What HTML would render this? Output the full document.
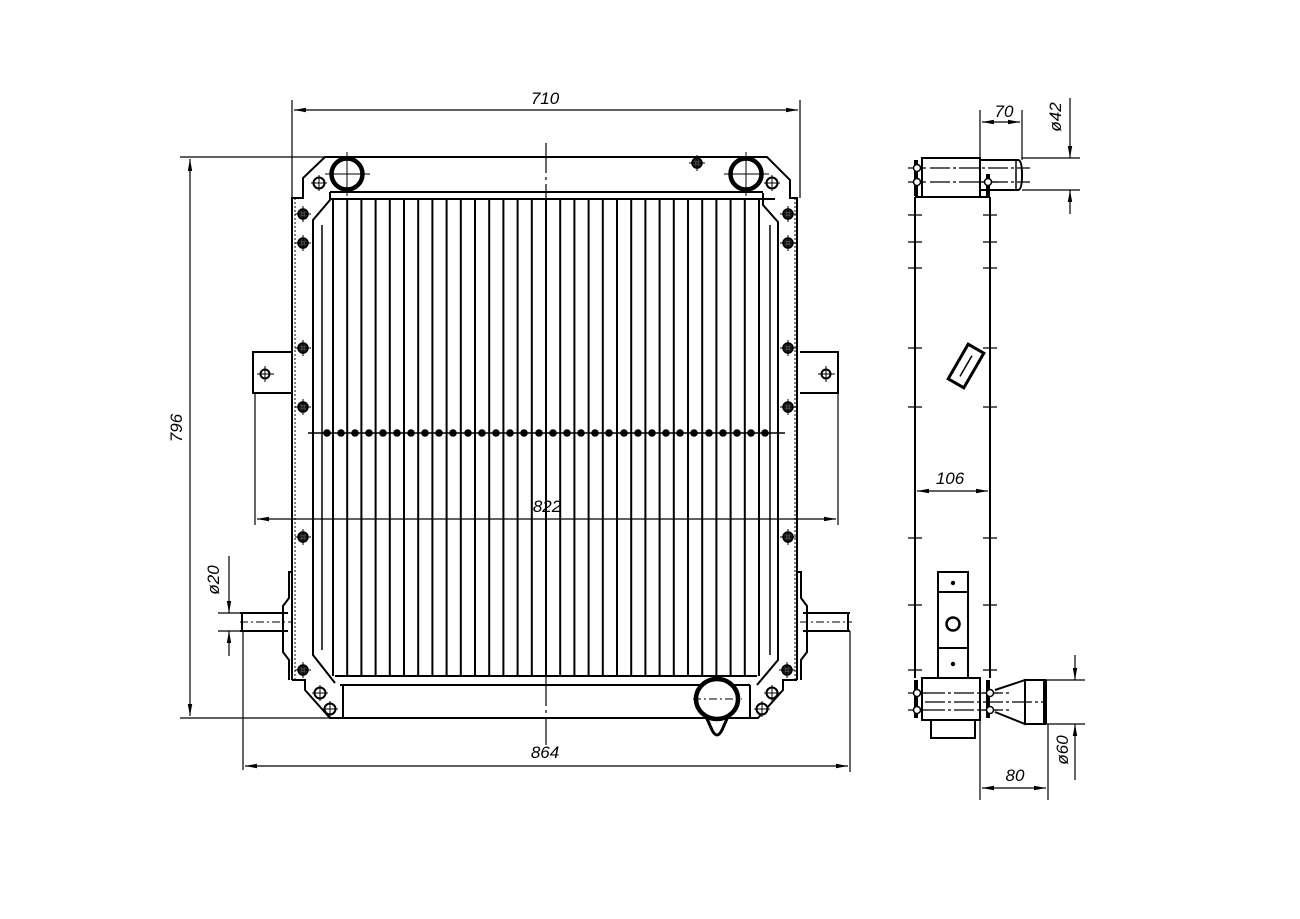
<!DOCTYPE html>
<html><head><meta charset="utf-8"><style>html,body{margin:0;background:#fff}svg{display:block}</style></head><body>
<svg width="1300" height="919" viewBox="0 0 1300 919" xmlns="http://www.w3.org/2000/svg" font-family="Liberation Sans, sans-serif">
<defs>
<marker id="a" markerWidth="12" markerHeight="6" refX="12" refY="3" orient="auto-start-reverse" markerUnits="userSpaceOnUse"><path d="M0,0.8 L12,3 L0,5.2z" fill="#000"/></marker>
<g id="bolt"><circle r="5.5" fill="#fff" stroke="#000" stroke-width="2"/><path d="M-8,0H8M0,-8V8" stroke="#000" stroke-width="1"/></g>
<g id="boltd"><circle r="5" fill="#222" stroke="#000" stroke-width="1.5"/><circle r="2" fill="#888"/><path d="M-8,0H8M0,-8V8" stroke="#000" stroke-width="1"/></g>
</defs>
<g fill="none" stroke="#000" stroke-width="2">
<path d="M292,680 V198 H303 V178 L325,157 H767 L790,180 V198 H797 V680"/>
<path d="M295,680 V198" stroke-width="1" stroke-dasharray="2 2"/>
<path d="M795,680 V198" stroke-width="1" stroke-dasharray="2 2"/>
<path d="M330,192 H763"/><path d="M330,199 H775"/>
<path d="M330,192 L330,199"/>
<path d="M330,192 V200 L313,220 V655 L335,683"/>
<path d="M763,193 V205 L778,222 V660 L757,685"/>
<path d="M322,225 V650" stroke-width="1.5"/><path d="M770,225 V655" stroke-width="1.5"/>
<path d="M335,676 H757"/><path d="M340,685 H750"/>
<path d="M343,685 V718 H750 V685"/>
<path d="M292,680 H305 V690 L330,718 H345"/>
<path d="M797,680 H783 V690 L758,718 H745"/>
</g>
<g stroke="#000" stroke-width="2">
<path d="M333,199V676M347.2,199V676M361.4,199V676M375.6,199V676M389.8,199V676M404,199V676M418.2,199V676M432.4,199V676M446.6,199V676M460.8,199V676M475,199V676M489.2,199V676M503.4,199V676M517.6,199V676M531.8,199V676M546,199V676M560.2,199V676M574.4,199V676M588.6,199V676M602.8,199V676M617,199V676M631.2,199V676M645.4,199V676M659.6,199V676M673.8,199V676M688,199V676M702.2,199V676M716.4,199V676M730.6,199V676M744.8,199V676M759,199V676"/>
</g>
<path d="M308,433H785" stroke="#000" stroke-width="1.5"/>
<g fill="#000">
<circle cx="327" cy="433" r="3.8"/><circle cx="341" cy="433" r="3.8"/><circle cx="355" cy="433" r="3.8"/><circle cx="369" cy="433" r="3.8"/><circle cx="383" cy="433" r="3.8"/><circle cx="397" cy="433" r="3.8"/><circle cx="411" cy="433" r="3.8"/><circle cx="425" cy="433" r="3.8"/><circle cx="439" cy="433" r="3.8"/><circle cx="453" cy="433" r="3.8"/><circle cx="468" cy="433" r="3.8"/><circle cx="482" cy="433" r="3.8"/><circle cx="496" cy="433" r="3.8"/><circle cx="510" cy="433" r="3.8"/><circle cx="524" cy="433" r="3.8"/><circle cx="539" cy="433" r="3.8"/><circle cx="553" cy="433" r="3.8"/><circle cx="567" cy="433" r="3.8"/><circle cx="581" cy="433" r="3.8"/><circle cx="595" cy="433" r="3.8"/><circle cx="609" cy="433" r="3.8"/><circle cx="624" cy="433" r="3.8"/><circle cx="638" cy="433" r="3.8"/><circle cx="652" cy="433" r="3.8"/><circle cx="666" cy="433" r="3.8"/><circle cx="680" cy="433" r="3.8"/><circle cx="694" cy="433" r="3.8"/><circle cx="709" cy="433" r="3.8"/><circle cx="723" cy="433" r="3.8"/><circle cx="737" cy="433" r="3.8"/><circle cx="751" cy="433" r="3.8"/><circle cx="765" cy="433" r="3.8"/>
</g>
<use href="#boltd" x="303" y="214"/><use href="#boltd" x="303" y="243"/><use href="#boltd" x="303" y="348"/><use href="#boltd" x="303" y="407"/><use href="#boltd" x="303" y="537"/><use href="#boltd" x="303" y="670"/>
<use href="#boltd" x="788" y="214"/><use href="#boltd" x="788" y="243"/><use href="#boltd" x="788" y="348"/><use href="#boltd" x="788" y="407"/><use href="#boltd" x="788" y="537"/><use href="#boltd" x="787" y="670"/>
<use href="#bolt" x="319" y="183"/><use href="#bolt" x="772" y="183"/><use href="#boltd" x="697" y="163"/>
<use href="#bolt" x="320" y="693"/><use href="#bolt" x="330" y="709"/><use href="#bolt" x="772" y="693"/><use href="#bolt" x="762" y="709"/>
<g fill="#fff" stroke="#000" stroke-width="4.5"><circle cx="347" cy="174" r="15.5"/><circle cx="746" cy="174" r="15.5"/></g>
<path d="M325,174H370M347,152V196M724,174H769M746,152V196" stroke="#000" stroke-width="1"/>
<path d="M704,712 L712,730 Q717,740 722,730 L730,712" fill="none" stroke="#000" stroke-width="3"/>
<ellipse cx="717" cy="699" rx="21" ry="20" fill="#fff" stroke="#000" stroke-width="4.5"/>
<path d="M693,699H742" stroke="#000" stroke-width="1" stroke-dasharray="8 3 2 3"/>
<g fill="none" stroke="#000" stroke-width="2">
<path d="M292,352 H253 V393 H292"/><path d="M800,352 H838 V393 H800"/>
<circle cx="265" cy="374" r="4.5"/><circle cx="826" cy="374" r="4.5"/>
</g>
<path d="M257,374H274M265,366V382M818,374H835M826,366V382" stroke="#000" stroke-width="1"/>
<g fill="none" stroke="#000" stroke-width="2">
<path d="M292,572 H289 V598 L283,606 V652 L289,660 V680"/>
<path d="M797,572 H801 V598 L807,606 V652 L801,660 V680"/>
<path d="M240,613 H288 M240,631 H288 M242,613 V631"/>
<path d="M850,613 H803 M850,631 H803 M848,613 V631"/>
</g>
<path d="M240,622H292M800,622H852" stroke="#000" stroke-width="1" stroke-dasharray="8 3 2 3"/>
<g stroke="#000" stroke-width="1.2" fill="none">
<path d="M546,143V745" stroke-dasharray="30 4 3 4"/>
<path d="M292,100V198M800,100V198"/>
<path d="M294,110H798" marker-start="url(#a)" marker-end="url(#a)"/>
<path d="M180,157H330M180,718H345"/>
<path d="M190,159V716" marker-start="url(#a)" marker-end="url(#a)"/>
<path d="M255,393V525M838,393V525"/>
<path d="M257,519H836" marker-start="url(#a)" marker-end="url(#a)"/>
<path d="M243,631V770M850,631V772"/>
<path d="M245,766H848" marker-start="url(#a)" marker-end="url(#a)"/>
<path d="M218,613H240M218,631H240"/>
<path d="M229,556V613" marker-end="url(#a)"/><path d="M229,656V631" marker-end="url(#a)"/>
</g>
<g font-size="17" font-style="italic" fill="#000" text-anchor="middle">
<text x="545" y="104">710</text>
<text x="547" y="512">822</text>
<text x="545" y="758">864</text>
<text transform="translate(182,428) rotate(-90)">796</text>
<text transform="translate(219,580) rotate(-90)">ø20</text>
</g>
<g fill="none" stroke="#000" stroke-width="2">
<path d="M915,197 V678 M990,197 V678 M915,197 H990"/>
<rect x="922" y="158" width="58" height="39"/>
<path d="M980,160 H1018 Q1022,160 1022,175 Q1022,190 1018,190 H980"/>
<path d="M1016,160 V190" stroke-width="1.5"/>
<rect x="938" y="572" width="30" height="106"/>
<path d="M938,592H968M938,648H968"/>
<circle cx="953" cy="624" r="6.5" stroke-width="2.5"/>
<rect x="922" y="678" width="58" height="42"/>
<rect x="931" y="720" width="44" height="18"/>
<path d="M995,690 L1025,680 V724 L995,712"/>
<rect x="1025" y="680" width="20" height="44"/>
<path d="M1045,680 V724" stroke-width="4"/>
<path d="M916,160V196M988,174V196M916,680V718M988,680V718" stroke-width="4"/>
<g transform="translate(966,366) rotate(30)"><rect x="-9" y="-20" width="18" height="40" stroke-width="3"/><path d="M0,-12V12" stroke-width="1.5"/></g>
</g>
<g fill="#000"><circle cx="953" cy="583" r="2.2"/><circle cx="953" cy="664" r="2.2"/></g>
<g stroke="#000" stroke-width="1.2" fill="none">
<path d="M908,215h14M908,242h14M908,268h14M908,348h14M908,407h14M908,538h14M908,605h14M908,670h14"/>
<path d="M983,215h14M983,242h14M983,268h14M983,348h14M983,407h14M983,538h14M983,605h14M983,670h14"/>
<path d="M908,168h18M908,182h18M980,182h18M908,693h18M908,710h18M980,693h18M980,710h18"/>
<path d="M930,168H1030M930,182H1030" stroke-dasharray="20 3 3 3"/>
<path d="M925,693H1010M925,702H1045M925,710H1010" stroke-dasharray="20 3 3 3"/>
<path d="M980,110V160M1022,110V160"/>
<path d="M982,122H1020" marker-start="url(#a)" marker-end="url(#a)"/>
<path d="M1022,158H1080M1022,190H1080"/>
<path d="M1070,98V158" marker-end="url(#a)"/><path d="M1070,214V190" marker-end="url(#a)"/>
<path d="M917,491H988" marker-start="url(#a)" marker-end="url(#a)"/>
<path d="M1045,680H1085M1045,724H1085"/>
<path d="M1075,655V680" marker-end="url(#a)"/><path d="M1075,780V724" marker-end="url(#a)"/>
<path d="M980,720V800M1048,724V800"/>
<path d="M982,788H1046" marker-start="url(#a)" marker-end="url(#a)"/>
</g>
<g font-size="17" font-style="italic" fill="#000" text-anchor="middle">
<text x="1004" y="117">70</text>
<text x="950" y="484">106</text>
<text x="1015" y="781">80</text>
<text transform="translate(1061,117) rotate(-90)">ø42</text>
<text transform="translate(1068,750) rotate(-90)">ø60</text>
</g>
<g fill="#fff" stroke="#000" stroke-width="1.5">
<circle cx="917" cy="168" r="3.5"/><circle cx="917" cy="182" r="3.5"/><circle cx="988" cy="182" r="3.5"/>
<circle cx="917" cy="693" r="3.5"/><circle cx="917" cy="710" r="3.5"/><circle cx="990" cy="693" r="3.5"/><circle cx="990" cy="710" r="3.5"/>
</g>
</svg>
</body></html>
